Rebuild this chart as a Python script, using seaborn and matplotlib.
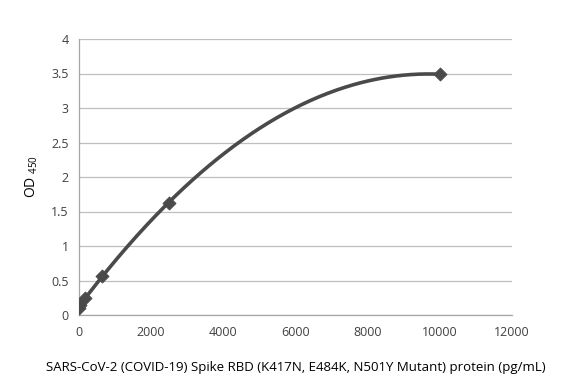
import numpy as np
import pandas as pd
import seaborn as sns
import matplotlib.pyplot as plt

# standard curve points (pg/mL vs OD450)
conc = [0, 39, 156, 625, 2500, 10000]
od450 = [0.10, 0.15, 0.24, 0.57, 1.63, 3.49]

x_ticks = [0, 2000, 4000, 6000, 8000, 10000, 12000]
y_ticks = [0, 0.5, 1, 1.5, 2, 2.5, 3, 3.5, 4]
y_tick_labels = ["0", "0.5", "1", "1.5", "2", "2.5", "3", "3.5", "4"]

sns.set_style("white")
plt.rcParams["font.family"] = ["Open Sans", "DejaVu Sans"]

df = pd.DataFrame({"conc": conc, "od": od450})

# 2nd order trendline through the points
coef = np.polyfit(df["conc"], df["od"], 2)
xs = np.linspace(0, 10000, 300)
fit = pd.DataFrame({"conc": xs, "od": np.polyval(coef, xs)})

fig = plt.figure(figsize=(5.82, 3.82), dpi=100)
ax = fig.add_axes([79 / 582, 1 - 315 / 382, 433 / 582, 276 / 382])

sns.lineplot(data=fit, x="conc", y="od", ax=ax, color="#4a4a4a", linewidth=2.6)
sns.scatterplot(data=df, x="conc", y="od", ax=ax, marker="D", s=45,
                color="#4a4a4a", edgecolor="#4a4a4a", zorder=3)

ax.set_xlim(0, 12000)
ax.set_ylim(0, 4)
ax.set_xticks(x_ticks)
ax.set_yticks(y_ticks)
ax.set_yticklabels(y_tick_labels)
ax.yaxis.grid(True, color="#bfbfbf", linewidth=0.9)
ax.set_axisbelow(True)

for s in ["top", "right"]:
    ax.spines[s].set_visible(False)
for s in ["left", "bottom"]:
    ax.spines[s].set_color("#a6a6a6")
    ax.spines[s].set_linewidth(0.9)

ax.tick_params(axis="both", colors="#a6a6a6", labelcolor="#404040",
               labelsize=9, length=4, width=0.9, direction="out")
ax.tick_params(axis="x", pad=4)

ax.set_xlabel("SARS-CoV-2 (COVID-19) Spike RBD (K417N, E484K, N501Y Mutant) protein (pg/mL)",
              fontsize=9.5, color="black", labelpad=16)
ax.set_ylabel(r"OD $\mathregular{_{450}}$", fontsize=10, color="black", labelpad=8)
ax.yaxis.set_label_coords(-0.09, 0.5)

fig.savefig("out.png", dpi=100)
